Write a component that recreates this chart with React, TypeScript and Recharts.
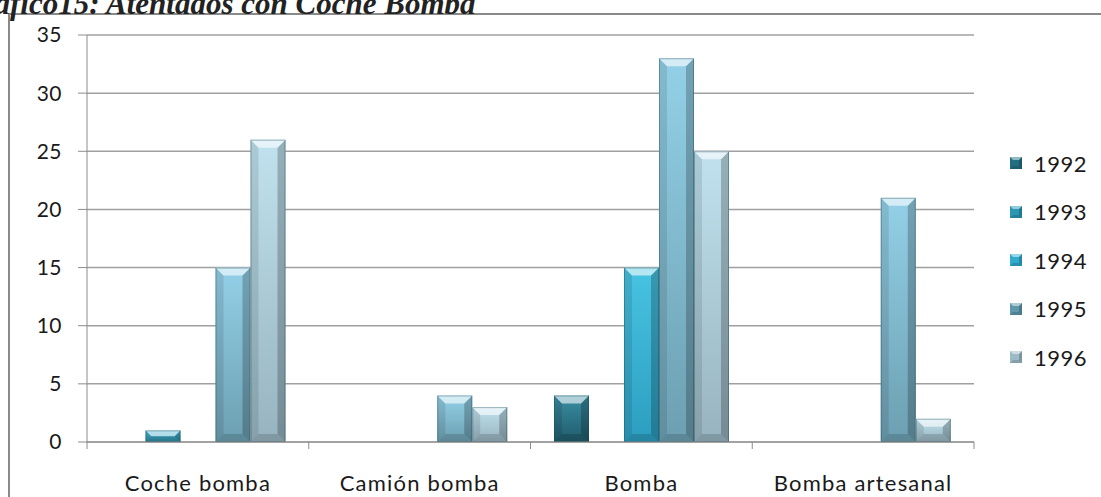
import React from 'react';
import { BarChart, Bar, XAxis, YAxis, CartesianGrid, Legend } from 'recharts';

const categories = ['Coche bomba', 'Camión bomba', 'Bomba', 'Bomba artesanal'];
const years = ['1992', '1993', '1994', '1995', '1996'];
const v1992 = [0, 0, 4, 0];
const v1993 = [1, 0, 0, 0];
const v1994 = [0, 0, 15, 0];
const v1995 = [15, 4, 33, 21];
const v1996 = [26, 3, 25, 2];
const yTicks = [0, 5, 10, 15, 20, 25, 30, 35];

const seriesValues = [v1992, v1993, v1994, v1995, v1996];

// top / bottom of the vertical gradient, then the legend swatch colour
const palette = [
  { top: '#3a8ea3', bottom: '#1f5b6b', swatch: '#236f82' },
  { top: '#4cbad6', bottom: '#2a8aa3', swatch: '#2c97b2' },
  { top: '#48c3e2', bottom: '#2c9ec0', swatch: '#30aacd' },
  { top: '#93d0e7', bottom: '#6c9fb1', swatch: '#5f98ab' },
  { top: '#c0e2ee', bottom: '#97b3bf', swatch: '#9dbbc7' },
];

const data = categories.map((name, i) => {
  const row: Record<string, string | number> = { name };
  years.forEach((y, s) => {
    row[y] = seriesValues[s][i];
  });
  return row;
});

const FONT = 'Lato, "Open Sans", sans-serif';

const BevelBar = (props: any) => {
  const { x, y, width, height, seriesIndex } = props;
  if (!height || height <= 0) return null;
  const b = Math.min(8, height / 2, width / 4);
  const id = `grad${seriesIndex}`;
  return (
    <g>
      <rect x={x} y={y} width={width} height={height} fill={`url(#${id})`} />
      <polygon
        points={`${x},${y} ${x + b},${y + b} ${x + b},${y + height - b} ${x},${y + height}`}
        fill="#000"
        fillOpacity={0.1}
      />
      <polygon
        points={`${x + width},${y} ${x + width - b},${y + b} ${x + width - b},${y + height - b} ${x + width},${y + height}`}
        fill="#000"
        fillOpacity={0.22}
      />
      <polygon
        points={`${x},${y} ${x + width},${y} ${x + width - b},${y + b} ${x + b},${y + b}`}
        fill="#fff"
        fillOpacity={0.6}
      />
      <polygon
        points={`${x},${y + height} ${x + width},${y + height} ${x + width - b},${y + height - b} ${x + b},${y + height - b}`}
        fill="#000"
        fillOpacity={0.15}
      />
      <rect
        x={x + 0.5}
        y={y + 0.5}
        width={width - 1}
        height={height - 1}
        fill="none"
        stroke="#1c4a57"
        strokeOpacity={0.4}
      />
    </g>
  );
};

const XTick = (props: any) => {
  const { x, y, payload, index, visibleTicksCount } = props;
  const half = payload.offset || 0;
  return (
    <g>
      <line x1={x - half} y1={y} x2={x - half} y2={y + 7} stroke="#8c8c8c" />
      {index === visibleTicksCount - 1 && (
        <line x1={x + half} y1={y} x2={x + half} y2={y + 7} stroke="#8c8c8c" />
      )}
      <text
        x={x}
        y={y + 49}
        textAnchor="middle"
        fill="#1a1a1a"
        fontSize={22}
        letterSpacing={1.2}
        fontFamily={FONT}
      >
        {payload.value}
      </text>
    </g>
  );
};

const LegendContent = () => (
  <div style={{ fontFamily: FONT, fontSize: 22, letterSpacing: 0.5, color: '#1a1a1a' }}>
    {years.map((y, s) => (
      <div key={y} style={{ display: 'flex', alignItems: 'center', height: 48.5 }}>
        <svg width={12} height={12} style={{ marginRight: 12 }}>
          <rect x={0} y={0} width={12} height={12} fill={palette[s].swatch} />
          <polygon points="0,0 12,0 9,3 3,3" fill="#fff" fillOpacity={0.5} />
          <polygon points="12,0 12,12 9,9 9,3" fill="#000" fillOpacity={0.2} />
          <polygon points="0,12 12,12 9,9 3,9" fill="#000" fillOpacity={0.15} />
        </svg>
        <span>{y}</span>
      </div>
    ))}
  </div>
);

export default function App() {
  return (
    <div
      style={{
        position: 'absolute',
        left: 0,
        top: 0,
        width: 1101,
        height: 497,
        overflow: 'hidden',
        background: '#fff',
      }}
    >
      <div
        style={{
          position: 'absolute',
          left: 8,
          top: 13,
          width: 1200,
          height: 600,
          border: '2px solid #8a8a8a',
        }}
      />
      <div
        style={{
          position: 'absolute',
          left: -40,
          top: -12,
          whiteSpace: 'nowrap',
          fontFamily: '"Liberation Serif", "Times New Roman", serif',
          fontWeight: 'bold',
          fontStyle: 'italic',
          fontSize: 31,
          lineHeight: 1,
          color: '#222',
        }}
      >
        Gráfico15: Atentados con Coche Bomba
      </div>
      <div style={{ position: 'absolute', left: 0, top: 0 }}>
        <BarChart
          width={1101}
          height={497}
          data={data}
          margin={{ top: 35, right: 37, bottom: 0, left: 0 }}
          barCategoryGap="10.6%"
          barGap={0}
        >
          <defs>
            {palette.map((p, s) => (
              <linearGradient key={s} id={`grad${s}`} x1="0" y1="0" x2="0" y2="1">
                <stop offset="0%" stopColor={p.top} />
                <stop offset="100%" stopColor={p.bottom} />
              </linearGradient>
            ))}
          </defs>
          <CartesianGrid horizontal vertical={false} stroke="#a0a0a0" strokeWidth={1.5} />
          <XAxis
            dataKey="name"
            height={55}
            axisLine={{ stroke: '#8c8c8c' }}
            tickLine={false}
            tickSize={0}
            tickMargin={0}
            interval={0}
            tick={<XTick />}
          />
          <YAxis
            width={87}
            domain={[0, 35]}
            ticks={yTicks}
            interval={0}
            axisLine={{ stroke: '#8c8c8c' }}
            tickLine={{ stroke: '#8c8c8c' }}
            tickSize={9}
            tickMargin={16}
            tick={{ fill: '#1a1a1a', fontSize: 21, fontFamily: FONT, letterSpacing: 0.5 }}
          />
          <Legend
            layout="vertical"
            align="right"
            verticalAlign="top"
            content={<LegendContent />}
            wrapperStyle={{ position: 'absolute', left: 1010, top: 139, width: 90 }}
          />
          {years.map((y, s) => (
            <Bar
              key={y}
              dataKey={y}
              isAnimationActive={false}
              shape={(p: any) => <BevelBar {...p} seriesIndex={s} />}
            />
          ))}
        </BarChart>
      </div>
    </div>
  );
}
